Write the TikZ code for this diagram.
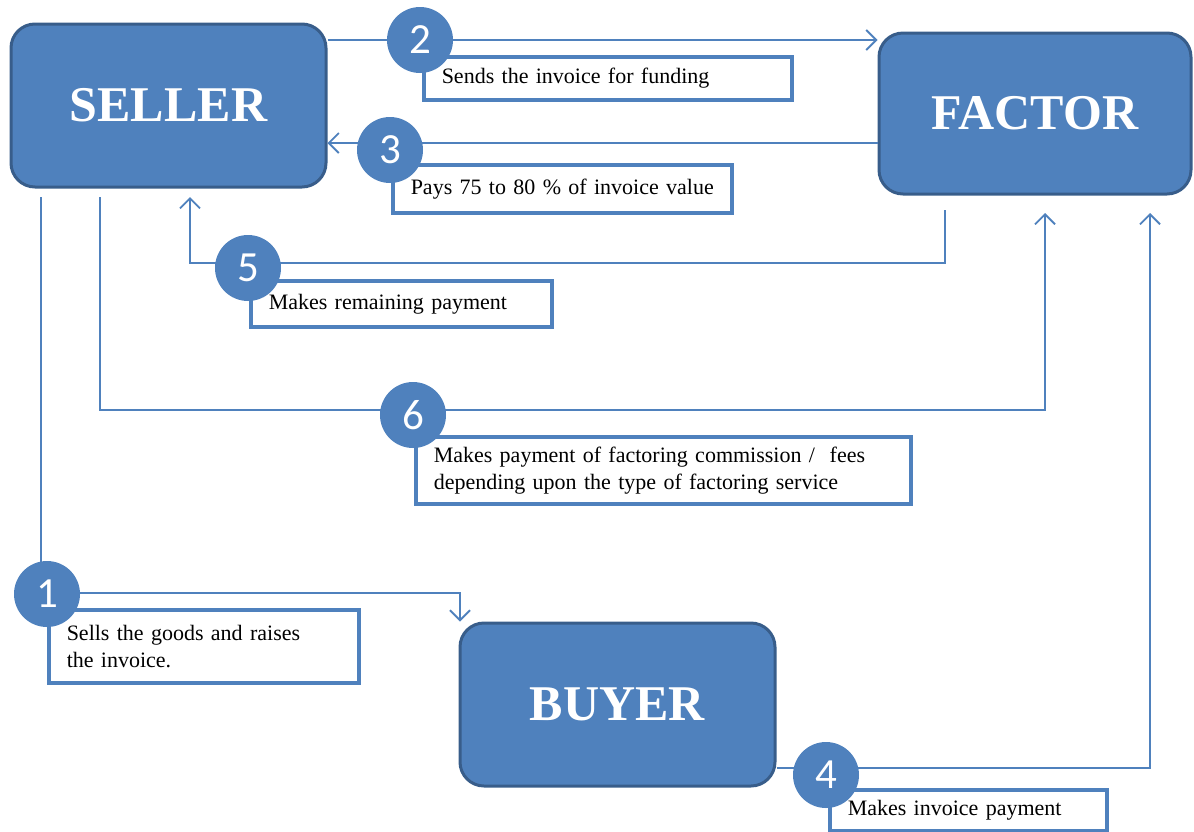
\documentclass[tikz,border=0pt]{standalone}
\usepackage{fontspec}
\setmainfont{Liberation Serif}
\newfontfamily\numfont{Carlito}
\usetikzlibrary{arrows.meta,calc}
\definecolor{boxblue}{HTML}{4F81BD}
\definecolor{edgeblue}{HTML}{385D8A}
% note text: slightly tighter word spacing
\newcommand\notefont{\fontsize{22}{27}\selectfont\spaceskip 0.22em plus 0.05em\relax}
\tikzset{
  party/.style={draw=edgeblue, line width=3pt, fill=boxblue, rounded corners=24pt,
    text=white, font=\fontsize{50}{54}\selectfont\bfseries, inner sep=0pt},
  flow/.style={draw=boxblue, line width=1.8pt},
  tip/.style={-{Straight Barb[length=10pt,width=20pt,line width=1.8pt]}},
  stepnum/.style={circle, fill=boxblue, minimum size=66pt, inner sep=0pt,
    text=white, font=\numfont\fontsize{43}{45}\selectfont},
  note/.style={draw=boxblue, line width=3.5pt, fill=white, anchor=north west,
    inner xsep=18pt, inner ysep=0pt, align=left, font=\notefont}
}
\begin{document}
\begin{tikzpicture}[x=1pt,y=-1pt]
\useasboundingbox (0,0) rectangle (1194,831);

% the three parties
\node[party, minimum width=315pt, minimum height=163pt] (seller) at (168.5,105.5) {SELLER};
\node[party, minimum width=312pt, minimum height=161pt] (factor) at (1035,113.5) {FACTOR};
\node[party, minimum width=315pt, minimum height=163pt] (buyer) at (617.5,704.5) {BUYER};

% free ends of the connectors
\coordinate (s1) at (41,197);
\coordinate (s6) at (100,197);
\coordinate (s5) at (945,210);
\coordinate (e5) at (190,197);
\coordinate (e6) at (1045,213);
\coordinate (e4) at (1150,213);
\coordinate (k1) at (460,593);
\coordinate (k5) at (190,263);
\coordinate (k6) at (1045,410);
\coordinate (k4) at (1150,768);

% connectors
\draw[flow,tip] (seller.east |- 0,40) -- (factor.west |- 0,40);
\draw[flow,tip] (factor.west |- 0,143) -- (seller.east |- 0,143);
\draw[flow,tip] (s5) |- (k5) -- (e5);
\draw[flow,tip] (s6) |- (k6) -- (e6);
\draw[flow,tip] (s1) |- (k1) -- (k1 |- buyer.north);
\draw[flow,tip] (buyer.east |- k4) -- (k4) -- (e4);

% step descriptions
\node[note, minimum width=368pt, minimum height=43pt, text width=332pt] (t2) at (422,55) {Sends the invoice for funding};
\node[note, minimum width=339pt, minimum height=48pt, text width=303pt] (t3) at (391,163) {\mbox{Pays 75 to 80 \% of invoice value}};
\node[note, minimum width=301pt, minimum height=46pt, text width=265pt] (t5) at (249,279) {Makes remaining payment};
\node[note, minimum width=495pt, minimum height=67pt, text width=459pt] (t6) at (414,435) {Makes payment of factoring commission / \ fees\\depending upon the type of factoring service};
\node[note, minimum width=310pt, minimum height=73pt, text width=274pt] (t1) at (47,608) {Sells the goods and raises\\the invoice.};
\node[note, minimum width=277pt, minimum height=41pt, text width=241pt] (t4) at (828,788) {Makes invoice payment};

% step numbers
\node[stepnum] (n2) at (420,40) {2};
\node[stepnum] (n3) at (390,150) {3};
\node[stepnum] (n5) at (248,268) {5};
\node[stepnum] (n6) at (413,415) {6};
\node[stepnum] (n1) at (47,594) {1};
\node[stepnum] (n4) at (826,775) {4};
\end{tikzpicture}
\end{document}
